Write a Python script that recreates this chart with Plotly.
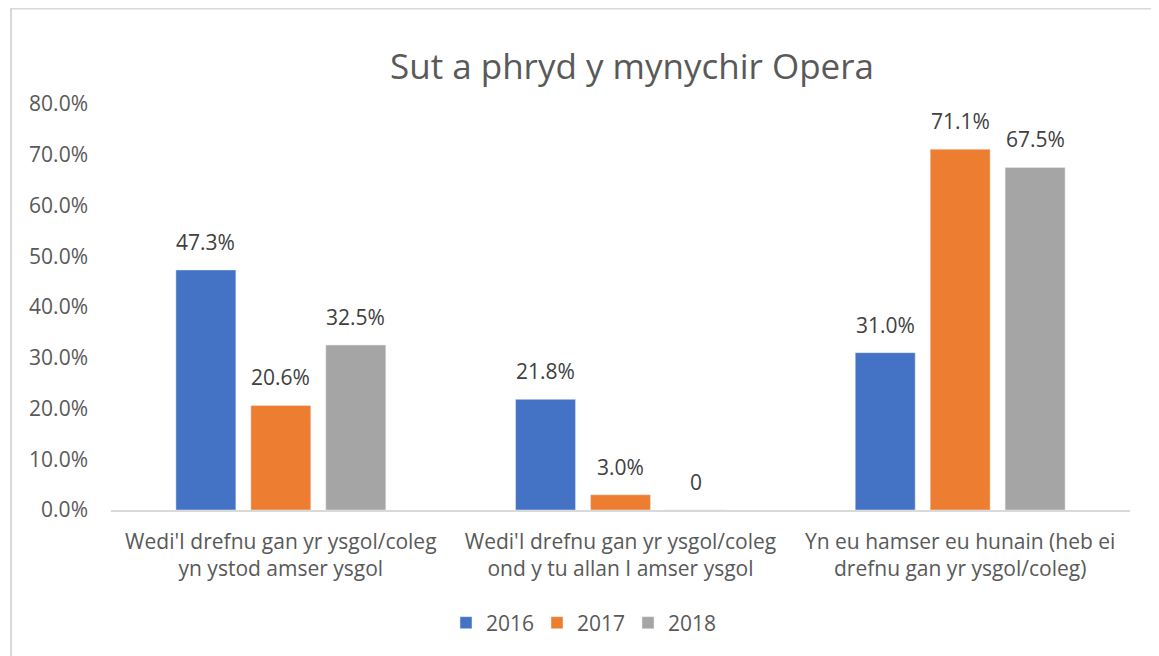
import plotly.graph_objects as go

categories = ["Wedi'I drefnu gan yr ysgol/coleg<br>yn ystod amser ysgol",
              "Wedi'I drefnu gan yr ysgol/coleg<br>ond y tu allan I amser ysgol",
              "Yn eu hamser eu hunain (heb ei<br>drefnu gan yr ysgol/coleg)"]
series_names = ["2016", "2017", "2018"]
values_2016 = [0.473, 0.218, 0.310]
values_2017 = [0.206, 0.030, 0.711]
values_2018 = [0.325, 0.0, 0.675]
labels_2016 = ["47.3%", "21.8%", "31.0%"]
labels_2017 = ["20.6%", "3.0%", "71.1%"]
labels_2018 = ["32.5%", "0", "67.5%"]
colors = ["#4472C4", "#ED7D31", "#A5A5A5"]
tick_vals = [0, 0.1, 0.2, 0.3, 0.4, 0.5, 0.6, 0.7, 0.8]
tick_text = ["0.0%", "10.0%", "20.0%", "30.0%", "40.0%", "50.0%", "60.0%", "70.0%", "80.0%"]

font_family = "'Open Sans', sans-serif"
FS = 21

# page has an 8px body margin; figure coordinates = page coordinates - 8
W, H = 1151, 648
L, R, T, B = 103, 29, 96, 146
pw, ph = W - L - R, H - T - B
slot_px = 75  # distance between bar centres within a group

fig = go.Figure()
all_vals = [values_2016, values_2017, values_2018]
all_labs = [labels_2016, labels_2017, labels_2018]
annotations = []
for i, (name, vals, labs, col) in enumerate(zip(series_names, all_vals, all_labs, colors)):
    fig.add_trace(go.Bar(x=categories, y=vals, name=name, marker_color=col))
    for cat, v, lab in zip(categories, vals, labs):
        annotations.append(dict(
            x=cat, y=v, xref="x", yref="y", text=lab, showarrow=False,
            xanchor="center", yanchor="bottom", xshift=(i - 1) * slot_px, yshift=12,
            font=dict(size=FS, color="#404040", family=font_family)))

fig.update_layout(
    width=W, height=H,
    margin=dict(l=L, r=R, t=T, b=B, autoexpand=False),
    paper_bgcolor="white", plot_bgcolor="white",
    barmode="group", bargap=0.338, bargroupgap=0.2,
    font=dict(family=font_family, color="#595959", size=FS),
    title=dict(text="Sut a phryd y mynychir Opera", x=(632 - 8) / W, xanchor="center",
               y=1 - (67 - 8) / H, yanchor="middle",
               font=dict(size=35, color="#595959", family=font_family)),
    xaxis=dict(showline=True, linecolor="#D9D9D9", linewidth=1.5, ticks="",
               automargin=False, ticklabelstandoff=12,
               tickfont=dict(size=FS, color="#595959")),
    yaxis=dict(range=[0, 0.8], tickvals=tick_vals, ticktext=tick_text,
               showgrid=False, zeroline=False, showline=False, automargin=False,
               ticklabelstandoff=22,
               tickfont=dict(size=FS, color="#595959")),
    legend=dict(orientation="h", x=0.5 - 38 / pw, xanchor="center",
                y=-(615 - (H - B)) / ph, yanchor="middle",
                font=dict(size=FS, color="#595959"),
                itemwidth=30, entrywidth=46, entrywidthmode="pixels",
                traceorder="normal"),
    annotations=annotations,
    shapes=[dict(type="rect", xref="paper", yref="paper",
                 x0=(3 - L) / pw, x1=(1148 - L) / pw,
                 y0=-(670 - T - ph) / ph, y1=1 + (T - 0.5) / ph,
                 line=dict(color="#D9D9D9", width=2), fillcolor="rgba(0,0,0,0)",
                 layer="below")],
)
fig.write_html("out.html")
